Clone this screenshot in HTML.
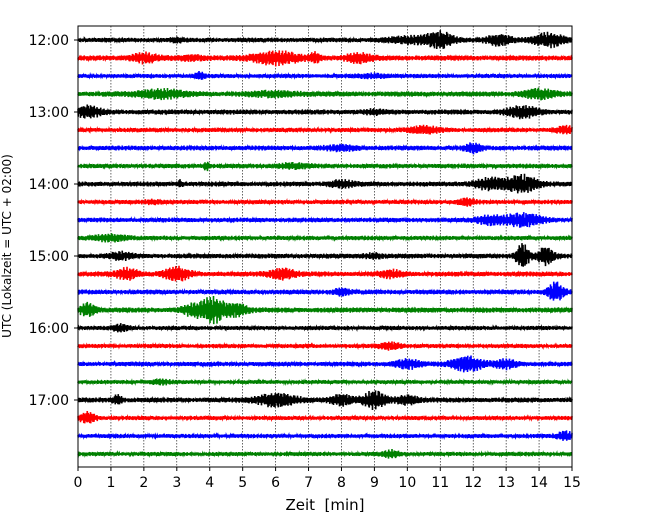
<!DOCTYPE html>
<html><head><meta charset="utf-8"><style>
body{margin:0;background:#fff}
svg{display:block;font-family:"DejaVu Sans","Liberation Sans",sans-serif}
</style></head><body>
<svg id="c" width="650" height="520"></svg>
<script>
// Data
const traceLabels=["12:00","12:15","12:30","12:45","13:00","13:15","13:30","13:45","14:00","14:15","14:30","14:45","15:00","15:15","15:30","15:45","16:00","16:15","16:30","16:45","17:00","17:15","17:30","17:45"];
const hourTicks=["12:00","13:00","14:00","15:00","16:00","17:00"];
const xTicks=[0,1,2,3,4,5,6,7,8,9,10,11,12,13,14,15];
const traceColors=["#000000","#ff0000","#0000ff","#008000"];
const background=[2.4,2.8,2.2,2.7,2.6,2.3,2.5,2.4,2.5,2.3,2.4,2.3,2.5,2.6,2.5,2.7,2.2,2.2,2.4,2.1,2.6,2.2,2.2,2.2];
// events per trace: [minute, amplitude, duration(min)]
const events=[
 [[10.2,3,0.8],[11,7,0.4],[12.8,5,0.4],[14.3,6,0.5],[3,1.5,0.2]],
 [[6,6,0.7],[2,4,0.4],[8.5,4,0.4],[7.2,4,0.15],[3.5,2,0.4]],
 [[3.7,3,0.15],[9,1.5,0.5]],
 [[2.5,4,0.7],[6,2,0.8],[14,4,0.5]],
 [[0.3,5,0.4],[13.5,5,0.5],[9,1.5,0.3]],
 [[10.5,3,0.5],[14.8,3,0.3]],
 [[12,4,0.25],[8,2,0.5]],
 [[3.9,4,0.08],[6.5,2,0.5]],
 [[13.5,8,0.5],[12.5,5,0.5],[8,3,0.4],[3.1,3,0.08]],
 [[11.8,3,0.25],[2.3,1.5,0.3]],
 [[13.5,6,0.6],[12.5,4,0.4]],
 [[1,3,0.5]],
 [[13.5,12,0.2],[14.2,8,0.25],[1.3,3,0.35],[9,2,0.3]],
 [[3,6,0.4],[6.2,5,0.4],[1.5,5,0.35],[9.5,3,0.35]],
 [[14.5,9,0.25],[8,3,0.25]],
 [[4.1,12,0.35],[0.3,6,0.25],[3.5,5,0.35],[4.8,6,0.35]],
 [[1.3,3,0.25]],
 [[9.5,3,0.35]],
 [[11.8,7,0.5],[10,4,0.4],[13,4,0.35]],
 [[2.5,2,0.3]],
 [[9,8,0.35],[6,6,0.6],[8,5,0.35],[1.2,4,0.15],[10,4,0.35]],
 [[0.3,5,0.25]],
 [[14.8,4,0.25]],
 [[9.5,3,0.25]]
];
const L=78,R=572,T=26,B=467,Y0=40,DY=18;
const xs=m=>L+(R-L)*m/15;
const ys=i=>Y0+DY*i;
const svg=document.getElementById('c');
const NS="http://www.w3.org/2000/svg";
function mk(t,a,name,parent){const e=document.createElementNS(NS,t);for(const k in a)e.setAttribute(k,a[k]);


(parent||svg).appendChild(e);return e;}
// grid
xTicks.forEach(v=>{if(v>0&&v<15)mk('line',{x1:xs(v),x2:xs(v),y1:T,y2:B,stroke:'#000','stroke-width':0.6,'stroke-dasharray':'1.5,1.5'},'grid-line');});
// traces
const SPP=4;
traceLabels.forEach((lab,i)=>{
 let pts=[];const y=ys(i);const N=(R-L)*SPP;
 for(let s=0;s<=N;s++){
  const m=s/N*15;
  let env=background[i]*(0.8+0.2*Math.abs(Math.sin(s*0.011+i)));
  events[i].forEach(e=>{const d=(m-e[0])/e[2];env+=e[1]*Math.exp(-d*d);});
  const w=Math.sin(s*2.9+i*1.1)*0.65+Math.sin(s*1.77+Math.sin(s*0.07)*4)*0.35;
  pts.push(xs(m).toFixed(2)+','+(y+env*w).toFixed(1));
 }
 mk('polyline',{points:pts.join(' '),fill:'none',stroke:traceColors[i%4],'stroke-width':1.6},'trace-'+lab.replace(':',''));
});
// axes box
mk('rect',{x:L,y:T,width:R-L,height:B-T,fill:'none',stroke:'#000','stroke-width':1},'plot-frame');
xTicks.forEach(v=>{mk('line',{x1:xs(v),x2:xs(v),y1:B,y2:B+4,stroke:'#000'},'x-tick');
 const t=mk('text',{x:xs(v),y:B+20,'text-anchor':'middle','font-size':14},'x-tick-label');t.textContent=v;});
hourTicks.forEach((h,k)=>{const y=ys(k*4);mk('line',{x1:L-4,x2:L,y1:y,y2:y,stroke:'#000'},'y-tick');
 const t=mk('text',{x:L-9,y:y+5,'text-anchor':'end','font-size':14},'y-tick-label');t.textContent=h;});
const xl=mk('text',{x:(L+R)/2,y:510,'text-anchor':'middle','font-size':15},'x-axis-title');xl.textContent='Zeit  [min]';xl.style.whiteSpace='pre';
const yl=mk('text',{x:0,y:0,'text-anchor':'middle','font-size':12,transform:'translate(11,246) rotate(-90)'},'y-axis-title');yl.textContent='UTC (Lokalzeit = UTC + 02:00)';
</script>
</body></html>
